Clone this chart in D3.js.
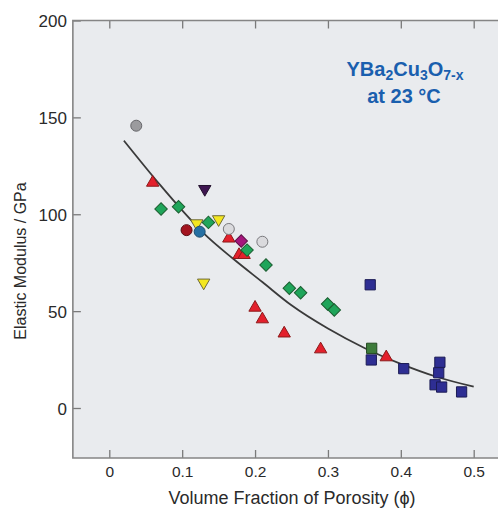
<!DOCTYPE html>
<html><head><meta charset="utf-8">
<script src="https://cdn.jsdelivr.net/npm/d3@7"></script>
<style>body{margin:0;background:#fff}svg{display:block}</style>
</head><body>
<svg id="c" width="498" height="508"></svg>
<script>
// ---- data ----
const xTicks = [0, 0.1, 0.2, 0.3, 0.4, 0.5];
const yTicks = [0, 50, 100, 150, 200];
const grayCircle = [[0.037, 145.7]];
const lightCircles = [[0.164, 92.4], [0.210, 85.8]];
const redTriangles = [[0.0595, 116.3], [0.164, 87.5], [0.178, 79], [0.185, 79], [0.200, 51.8], [0.210, 45.8], [0.240, 38.5], [0.290, 30.3], [0.380, 26.2]];
const yellowDown = [[0.120, 95.3], [0.150, 97.4], [0.1295, 64.7]];
const purpleDown = [[0.131, 113]];
const darkRedCircle = [[0.106, 91.8]];
const blueCircle = [[0.124, 91]];
const magentaDiamond = [[0.181, 86.2]];
const greenDiamonds = [[0.071, 102.7], [0.095, 103.9], [0.136, 95.8], [0.189, 81.5], [0.215, 73.8], [0.247, 61.8], [0.2625, 59.5], [0.2995, 53.7], [0.3087, 50.6]];
const darkGreenSquare = [[0.360, 30.8]];
const navySquares = [[0.358, 63.6], [0.3595, 24.8], [0.404, 20.3], [0.4536, 23.6], [0.452, 18.2], [0.447, 12.0], [0.456, 10.8], [0.4834, 8.3]];
const fitCurve = [[0.02, 138], [0.07, 115], [0.10, 102], [0.13, 90], [0.17, 77], [0.21, 65], [0.25, 53], [0.30, 41], [0.35, 31], [0.40, 22.8], [0.45, 16], [0.50, 11]];

// ---- layout ----
const svg = d3.select("#c");
const x = d3.scaleLinear().domain([0, 0.5]).range([109.3, 473.7]);
const y = d3.scaleLinear().domain([0, 200]).range([408, 20.5]);
const pLeft = x(-0.05), pRight = 520, pTop = y(200), pBottom = y(-25.8);
const font = "'Liberation Sans', Arial, sans-serif";

svg.append("rect").attr("x", pLeft).attr("y", pTop).attr("width", pRight - pLeft).attr("height", pBottom - pTop)
  .attr("fill", "#e9ebee");

// axes
const gx = svg.append("g").attr("transform", `translate(0,${pBottom})`)
  .call(d3.axisBottom(x).tickValues(xTicks).tickSize(-8).tickPadding(8.5).tickFormat(d => d === 0 ? "0" : d3.format(".1f")(d)));
const gxt = svg.append("g").attr("transform", `translate(0,${pTop})`)
  .call(d3.axisTop(x).tickValues(xTicks).tickSize(-8).tickFormat(""));
const gy = svg.append("g").attr("transform", `translate(${pLeft},0)`)
  .call(d3.axisLeft(y).tickValues(yTicks).tickSize(-8).tickPadding(6));
[gx, gxt, gy].forEach(g => {
  g.select(".domain").remove();
  g.selectAll(".tick line").attr("stroke", "#7a7a7a").attr("stroke-width", 1.3);
  g.selectAll(".tick text").attr("fill", "#2a2a2a").attr("font-family", font).attr("font-size", 15.5);
});
gy.selectAll(".tick text").attr("dy", "0.36em").attr("font-size", 17);

// frame (left, bottom, top)
svg.append("path")
  .attr("d", `M${pRight},${pTop}H${pLeft}V${pBottom}H${pRight}`)
  .attr("fill", "none").attr("stroke", "#858585").attr("stroke-width", 1.6);

// fit curve
svg.append("path").datum(fitCurve)
  .attr("d", d3.line().x(d => x(d[0])).y(d => y(d[1])).curve(d3.curveMonotoneX))
  .attr("fill", "none").attr("stroke", "#3a3a3a").attr("stroke-width", 1.8);

// markers
function plot(data, type, size, rot, fill, stroke) {
  svg.append("g").selectAll("path").data(data).join("path")
    .attr("d", d3.symbol().type(type).size(size))
    .attr("transform", d => `translate(${x(d[0])},${y(d[1])}) rotate(${rot})`)
    .attr("fill", fill).attr("stroke", stroke).attr("stroke-width", 1);
}
plot(redTriangles, d3.symbolTriangle, 66, 0, "#e3202c", "#8c1a1a");
plot(yellowDown, d3.symbolTriangle, 66, 180, "#f4e71f", "#6f6a3a");
plot(purpleDown, d3.symbolTriangle, 66, 180, "#3e1550", "#22102c");
plot(grayCircle, d3.symbolCircle, 95, 0, "#9b9b9e", "#66666a");
plot(lightCircles, d3.symbolCircle, 95, 0, "#dadadd", "#7a7a7e");
plot(darkRedCircle, d3.symbolCircle, 95, 0, "#a3141f", "#5a0f14");
plot(blueCircle, d3.symbolCircle, 95, 0, "#2670a3", "#1d4e6e");
plot(magentaDiamond, d3.symbolSquare, 78, 45, "#a5167d", "#5e1046");
plot(greenDiamonds, d3.symbolSquare, 78, 45, "#1fa55a", "#1b5e30");
plot(darkGreenSquare, d3.symbolSquare, 105, 0, "#3d7b3a", "#244a22");
plot(navySquares, d3.symbolSquare, 105, 0, "#2e2e93", "#1b1b55");

// axis titles
svg.append("text").attr("x", 292).attr("y", 504).attr("text-anchor", "middle")
  .attr("font-family", font).attr("font-size", 18).attr("fill", "#2a2a2a")
  .text("Volume Fraction of Porosity (\u03d5)");
svg.append("text").attr("transform", "translate(26,261) rotate(-90)").attr("text-anchor", "middle")
  .attr("font-family", font).attr("font-size", 16).attr("fill", "#2a2a2a")
  .text("Elastic Modulus / GPa");

// formula annotation
const blue = "#1a5fae";
const t1 = svg.append("text").attr("x", 405).attr("y", 76).attr("text-anchor", "middle")
  .attr("font-family", font).attr("font-size", 20).attr("font-weight", "bold").attr("fill", blue);
[["YBa", 0], ["2", 1], ["Cu", 0], ["3", 1], ["O", 0], ["7-x", 1]].forEach(([s, sub]) => {
  t1.append("tspan").text(s).attr("font-size", sub ? 14 : 20)
    .attr("baseline-shift", sub ? "-25%" : null);
});
svg.append("text").attr("x", 404).attr("y", 102.5).attr("text-anchor", "middle")
  .attr("font-family", font).attr("font-size", 20).attr("font-weight", "bold").attr("fill", blue)
  .text("at 23 \u00b0C");
</script>
</body></html>
